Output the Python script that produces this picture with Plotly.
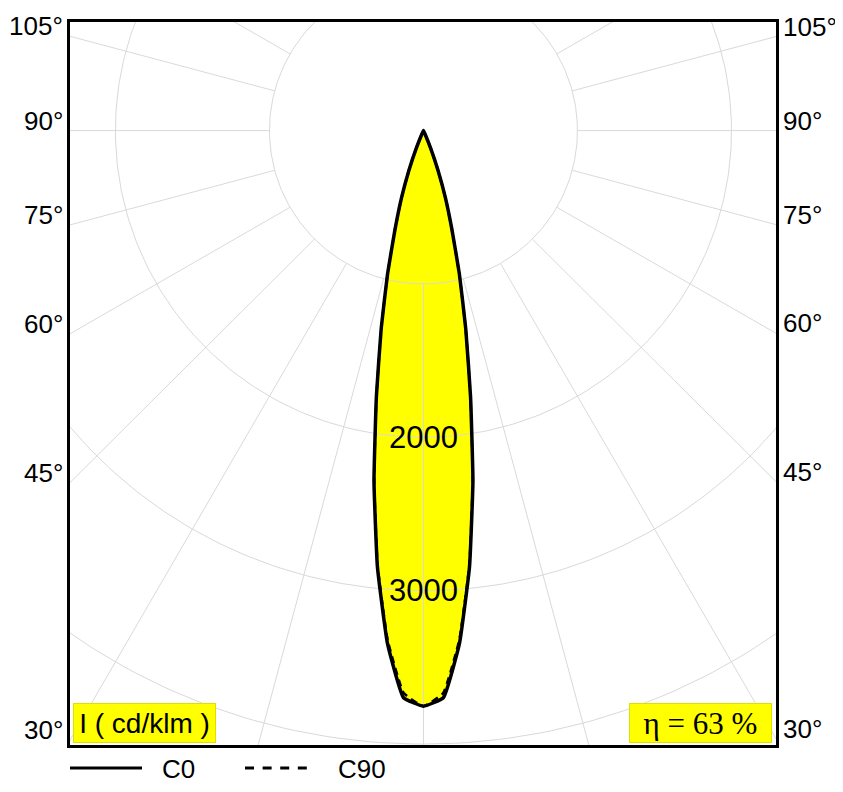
import numpy as np
import plotly.graph_objects as go

# gamma angles (deg) and luminous intensity (cd/klm)
gamma_deg = [0, 2, 4, 6, 8, 10, 12, 14, 16, 18, 20, 22, 24, 26]
c0_cdklm = [3753, 3700, 3352, 2860, 2308, 1760, 1320, 964, 670, 463, 277, 127, 30, 0]
c90_cdklm = [3753, 3670, 3330, 2850, 2300, 1757, 1318, 962, 668, 462, 276, 126, 30, 0]

circle_values = [1000, 2000, 3000, 4000]
circle_labels = [2000, 3000]
radial_step = 15
angle_labels = [30, 45, 60, 75, 90, 105]
eta_percent = 63

FONT = "Liberation Sans, Arial, sans-serif"
X_RANGE = [-2295, 2289]
Y_RANGE = [-4006, 708]


def curve_xy(gamma, inten):
    """Closed outline: C180/C270 half on the left, C0/C90 half on the right."""
    g = np.radians(gamma)
    i = np.asarray(inten, dtype=float)
    xs = i * np.sin(g)
    ys = -i * np.cos(g)
    x = np.concatenate([-xs[::-1], xs[1:]])
    y = np.concatenate([ys[::-1], ys[1:]])
    return x, y


x0, y0 = curve_xy(gamma_deg, c0_cdklm)
x90, y90 = curve_xy(gamma_deg, c90_cdklm)

fig = go.Figure()

# yellow fill
for xx, yy in [(x0, y0), (x90, y90)]:
    fig.add_trace(go.Scatter(
        x=xx, y=yy, mode="lines", fill="toself", fillcolor="#ffff00",
        line=dict(width=0, color="#ffff00", shape="spline", smoothing=0.35),
        hoverinfo="skip", showlegend=False
    ))

# grid: circles
t = np.radians(np.arange(0, 361, 1))
gx, gy = [], []
for r in circle_values:
    gx += list(r * np.sin(t)) + [None]
    gy += list(r * np.cos(t)) + [None]
# grid: radial lines from the first circle outwards
for a in range(0, 360, radial_step):
    ar = np.radians(a)
    gx += [circle_values[0] * np.sin(ar), 9000 * np.sin(ar), None]
    gy += [-circle_values[0] * np.cos(ar), -9000 * np.cos(ar), None]
fig.add_trace(go.Scatter(
    x=gx, y=gy, mode="lines", line=dict(color="#d9d9d9", width=1),
    hoverinfo="skip", showlegend=False
))

# outlines
fig.add_trace(go.Scatter(
    x=x0, y=y0, mode="lines", name="C0",
    line=dict(color="black", width=3.5, shape="spline", smoothing=0.35),
    showlegend=False
))
fig.add_trace(go.Scatter(
    x=x90, y=y90, mode="lines", name="C90",
    line=dict(color="black", width=2.5, dash="7px,5px", shape="spline", smoothing=0.35),
    showlegend=False
))

annotations = []
for v in circle_labels:
    annotations.append(dict(
        x=0, y=-v, xref="x", yref="y", text=str(v), showarrow=False,
        font=dict(family=FONT, size=31, color="black")
    ))

for g in angle_labels:
    cot = np.cos(np.radians(g)) / np.sin(np.radians(g))
    annotations.append(dict(
        x=0, xref="paper", xanchor="right", xshift=-5,
        y=X_RANGE[0] * cot, yref="y", yanchor="middle", yshift=10,
        text=f"{g}°", showarrow=False, font=dict(family=FONT, size=26, color="black")
    ))
    annotations.append(dict(
        x=1, xref="paper", xanchor="left", xshift=5,
        y=-X_RANGE[1] * cot, yref="y", yanchor="middle", yshift=10,
        text=f"{g}°", showarrow=False, font=dict(family=FONT, size=26, color="black")
    ))

annotations.append(dict(
    x=0, xref="paper", xanchor="left", xshift=3,
    y=0, yref="paper", yanchor="bottom", yshift=2,
    text="I ( cd/klm )", showarrow=False, width=141, height=38,
    bgcolor="#ffff00", bordercolor="#e0e000", borderwidth=1, borderpad=0,
    font=dict(family=FONT, size=28, color="black")
))
annotations.append(dict(
    x=1, xref="paper", xanchor="right", xshift=-4,
    y=0, yref="paper", yanchor="bottom", yshift=2,
    text=f"η = {eta_percent} %", showarrow=False, width=141, height=38,
    bgcolor="#ffff00", bordercolor="#e0e000", borderwidth=1, borderpad=0,
    font=dict(family="Liberation Serif, Times New Roman, serif", size=31, color="black")
))

# legend drawn by hand below the frame
annotations.append(dict(
    x=0.1275, xref="paper", xanchor="left", y=-0.033, yref="paper", yanchor="middle",
    text="C0", showarrow=False, font=dict(family=FONT, size=26, color="black")
))
annotations.append(dict(
    x=0.3768, xref="paper", xanchor="left", y=-0.033, yref="paper", yanchor="middle",
    text="C90", showarrow=False, font=dict(family=FONT, size=26, color="black")
))
shapes = [
    dict(type="line", xref="paper", yref="paper", x0=0, x1=0.102, y0=-0.0317, y1=-0.0317,
         line=dict(color="black", width=3)),
    dict(type="line", xref="paper", yref="paper", x0=0.2479, x1=0.3357, y0=-0.0317, y1=-0.0317,
         line=dict(color="black", width=3, dash="9px,8.6px")),
]

axis_style = dict(
    showline=True, mirror=True, linecolor="black", linewidth=3,
    showgrid=False, zeroline=False, showticklabels=False, ticks="", fixedrange=True
)

# the page adds an 8px body margin, so the figure is shrunk by that much
fig.update_layout(
    width=835, height=784,
    margin=dict(l=62, r=67, t=11, b=47),
    paper_bgcolor="white", plot_bgcolor="white",
    xaxis=dict(range=X_RANGE, **axis_style),
    yaxis=dict(range=Y_RANGE, **axis_style),
    annotations=annotations,
    shapes=shapes,
    showlegend=False
)

fig.write_html("out.html")
